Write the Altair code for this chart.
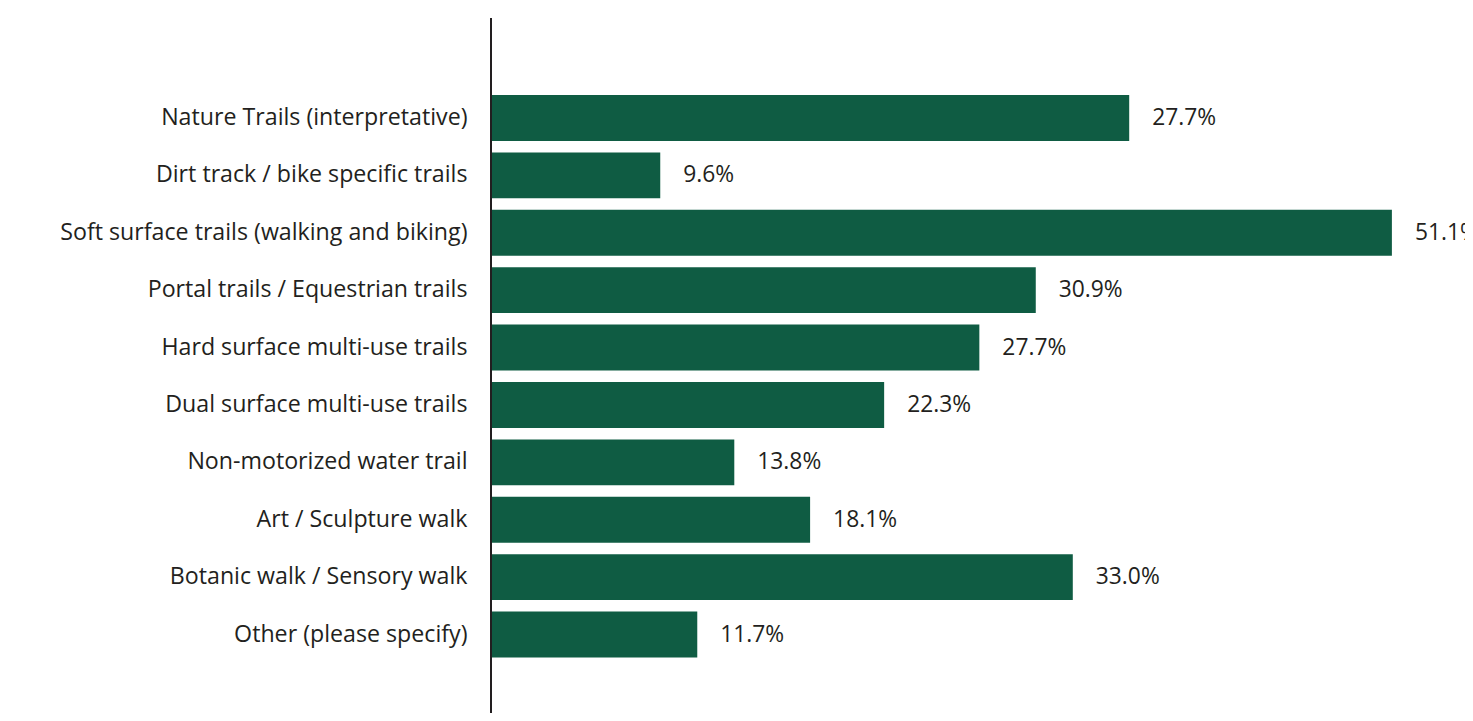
import altair as alt
import pandas as pd

categories = [
    "Nature Trails (interpretative)",
    "Dirt track / bike specific trails",
    "Soft surface trails (walking and biking)",
    "Portal trails / Equestrian trails",
    "Hard surface multi-use trails",
    "Dual surface multi-use trails",
    "Non-motorized water trail",
    "Art / Sculpture walk",
    "Botanic walk / Sensory walk",
    "Other (please specify)",
]
# bar lengths as drawn in the picture
values = [36.2, 9.6, 51.1, 30.9, 27.7, 22.3, 13.8, 18.1, 33.0, 11.7]
# labels as printed in the picture
labels = ["27.7%", "9.6%", "51.1%", "30.9%", "27.7%", "22.3%", "13.8%", "18.1%", "33.0%", "11.7%"]

df = pd.DataFrame({"cat": categories, "val": values, "lab": labels})

FONT = "Open Sans"
TXT = "#231f20"
BAR = "#0f5c43"
PX_PER_UNIT = 17.63
W = 974
H = 695

y = alt.Y(
    "cat:N",
    sort=categories,
    title=None,
    scale=alt.Scale(paddingInner=0.2, paddingOuter=0, range=[77, 639.5]),
    axis=alt.Axis(
        ticks=False,
        domain=False,
        labelFont=FONT,
        labelFontSize=23.2,
        labelColor=TXT,
        labelPadding=24,
        labelLimit=600,
        grid=False,
    ),
)
x = alt.X("val:Q", title=None, scale=alt.Scale(domain=[0, W / PX_PER_UNIT]), axis=None)

base = alt.Chart(df)
bars = base.mark_bar(color=BAR).encode(x=x, y=y)
text = base.mark_text(
    align="left", baseline="middle", dx=23, font=FONT, fontSize=22.8, color=TXT
).encode(x=x, y=y, text="lab:N")
axis_line = base.mark_rule(color=TXT, strokeWidth=1.2).encode(
    x=alt.value(0), y=alt.value(0), y2=alt.value(H)
)

chart = (
    (bars + text + axis_line)
    .properties(
        width=W,
        height=H,
        padding={"left": 483, "top": 10, "right": 0, "bottom": 0},
        autosize=alt.AutoSizeParams(type="none"),
    )
    .configure_view(stroke=None)
)

chart.save("out.html", embed_options={"renderer": "svg", "actions": False})
